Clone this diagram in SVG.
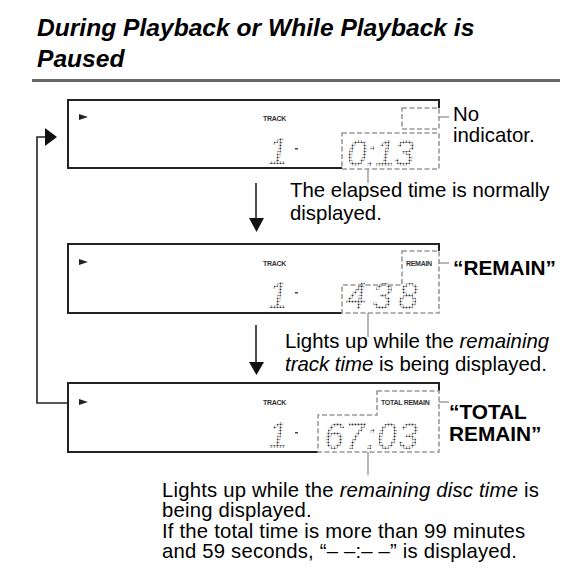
<svg xmlns="http://www.w3.org/2000/svg" width="585" height="584" viewBox="0 0 585 584">
<style>
.title{font-family:"Liberation Sans",Arial,sans-serif;font-weight:bold;font-style:italic;font-size:24.6px;fill:#000}
.body{font-family:"Liberation Sans",Arial,sans-serif;font-size:20.4px;fill:#000}
.body2{font-family:"Liberation Sans",Arial,sans-serif;font-size:20.3px;letter-spacing:0.2px;fill:#000}
.bold{font-family:"Liberation Sans",Arial,sans-serif;font-size:20.8px;font-weight:bold;fill:#000}
.tiny{font-family:"Liberation Sans",Arial,sans-serif;font-size:7px;font-weight:bold;fill:#333;letter-spacing:-0.3px}
.dig{font-family:"Liberation Sans",Arial,sans-serif;font-style:italic;font-size:36px;fill:url(#dots)}
.frame{fill:none;stroke:#222;stroke-width:2}
.dash{fill:none;stroke:#999;stroke-width:1.6;stroke-dasharray:5 2.5}
.lead{fill:none;stroke:#888;stroke-width:1.2}
.line{fill:none;stroke:#222;stroke-width:1.6}
</style>
<defs>
<pattern id="dots" width="3" height="3" patternUnits="userSpaceOnUse">
<circle cx="1.5" cy="1.5" r="1.05" fill="#333"/>
</pattern>
</defs>
<rect width="585" height="584" fill="#fff"/>
<text class="title" x="37" y="36">During Playback or While Playback is</text>
<text class="title" x="37" y="67">Paused</text>
<rect x="32" y="79" width="528" height="3" fill="#666"/>

<g id="display1">
<path class="frame" d="M402,100 H68 V168 H342 M439,108 V100 H402"/>
<path d="M79,114 L88,117 L79,120 Z" fill="#222"/>
<text class="tiny" x="263" y="121">TRACK</text>
<text class="dig" x="268" y="164">1</text>
<rect x="295" y="148" width="3" height="1.5" fill="#444"/>
<text class="dig" x="347" y="166" letter-spacing="-1">0:13</text>
<rect class="dash" x="402" y="108" width="37" height="21"/>
<rect class="dash" x="342" y="133" width="97" height="36"/>
</g>

<g id="display2">
<path class="frame" d="M402,244 H68 V313 H342 M439,251 V244 H402"/>
<path d="M79,259 L88,262 L79,265 Z" fill="#222"/>
<text class="tiny" x="263" y="266">TRACK</text>
<text class="tiny" x="406" y="266">REMAIN</text>
<text class="dig" x="268" y="308">1</text>
<rect x="295" y="292" width="3" height="1.5" fill="#444"/>
<text class="dig" x="346" y="309" letter-spacing="6">438</text>
<path class="dash" d="M402,251 H439 V313 H342 V285 H402 Z"/>
</g>

<g id="display3">
<path class="frame" d="M377,383 H68 V452 H318 M439,391 V383 H377"/>
<path d="M79,399 L88,402 L79,405 Z" fill="#222"/>
<text class="tiny" x="263" y="405">TRACK</text>
<text class="tiny" x="381" y="405">TOTAL  REMAIN</text>
<text class="dig" x="268" y="448">1</text>
<rect x="295" y="432" width="3" height="1.5" fill="#444"/>
<text class="dig" x="324" y="449" letter-spacing="1">67:03</text>
<path class="dash" d="M377,391 H439 V452 H318 V415 H377 Z"/>
</g>

<g id="labels">
<text class="body" x="453" y="121">No</text>
<text class="body" x="453" y="142">indicator.</text>
<text class="body" x="290" y="197">The elapsed time is normally</text>
<text class="body" x="290" y="220">displayed.</text>
<text class="bold" x="453" y="275">“REMAIN”</text>
<text class="body" x="285" y="348">Lights up while the <tspan font-style="italic">remaining</tspan></text>
<text class="body" x="285" y="371"><tspan font-style="italic">track time</tspan> is being displayed.</text>
<text class="bold" x="449" y="419">“TOTAL</text>
<text class="bold" x="449" y="441">REMAIN”</text>
<text class="body2" x="162" y="497">Lights up while the <tspan font-style="italic">remaining disc time</tspan> is</text>
<text class="body2" x="162" y="517">being displayed.</text>
<text class="body2" x="162" y="538">If the total time is more than 99 minutes</text>
<text class="body2" x="162" y="558">and 59 seconds, “– –:– –” is displayed.</text>
</g>

<g id="connectors">
<path class="lead" d="M439,117 H449"/>
<path class="lead" d="M368,169 V183"/>
<path class="lead" d="M439,263 H449"/>
<path class="lead" d="M368,313 V337"/>
<path class="lead" d="M439,402 H449"/>
<path class="lead" d="M368,452 V475"/>
<path class="line" d="M256,183 V220"/>
<path d="M249,218 H264 L256.5,232 Z" fill="#111"/>
<path class="line" d="M256,325 V364"/>
<path d="M249,362 H264 L256.5,375 Z" fill="#111"/>
<path class="line" d="M67,403 H37 V137 H46"/>
<path d="M45,128 L57,137 L45,146 Z" fill="#111"/>
</g>
</svg>
